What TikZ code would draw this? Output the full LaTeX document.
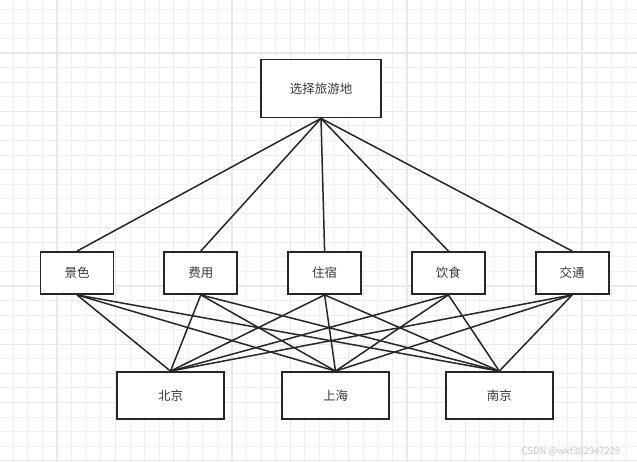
\documentclass[tikz,border=0pt]{standalone}
\usepackage{fontspec}
\setmainfont{Noto Sans CJK SC}
\usepackage{xcolor}
\usepackage{tikz}
\usetikzlibrary{positioning}

\definecolor{gridminor}{HTML}{F0F0F0}
\definecolor{gridmajor}{HTML}{E9E9E9}
\definecolor{boxtext}{HTML}{3A3A3A}

\begin{document}
\begin{tikzpicture}[
  x=1pt, y=-1pt,
  node distance=49pt,
  box/.style={rectangle, draw=black!85, line width=1.8pt,
    minimum width=73pt, minimum height=42pt, inner sep=0pt,
    align=center, text=boxtext, font=\fontsize{12.5}{15}\selectfont},
  bigbox/.style={box, minimum width=120pt, minimum height=58pt},
  citybox/.style={box, minimum width=107pt, minimum height=47pt},
  minor/.style={gridminor, line width=0.8pt},
  major/.style={gridmajor, line width=1.3pt},
  arr/.style={line width=1.5pt, black!85}
]
\useasboundingbox (0,0) rectangle (637,462);
\fill[white] (0,0) rectangle (637,462);
% background grid
\foreach \i in {0,...,44} {
  \pgfmathsetmacro\gx{-1.3+14.58*\i}
  \draw[minor] (\gx,0) -- (\gx,462);
}
\foreach \i in {0,...,32} {
  \pgfmathsetmacro\gy{-5.25+14.56*\i}
  \draw[minor] (0,\gy) -- (637,\gy);
}
\foreach \i in {0,...,11} {
  \pgfmathsetmacro\gx{-1.3+58.32*\i}
  \draw[major] (\gx,0) -- (\gx,462);
}
\foreach \i in {0,...,8} {
  \pgfmathsetmacro\gy{-5.25+58.25*\i}
  \draw[major] (0,\gy) -- (637,\gy);
}

\node[bigbox, fill=white] (goal) at (321,88.5) {选择旅游地};
\node[box, fill=white] (sc) at (77,273) {景色};
\node[box, fill=white, right=of sc] (fy) {费用};
\node[box, fill=white, right=of fy] (zs) {住宿};
\node[box, fill=white, right=of zs] (ys) {饮食};
\node[box, fill=white, right=of ys] (jt) {交通};
\node[citybox, fill=white] (bj) at (170.5,395.5) {北京};
\node[citybox, fill=white, right=56.2pt of bj] (sh) {上海};
\node[citybox, fill=white, right=55pt of sh] (nj) {南京};

\draw[arr] (goal.south)--(sc.north); \draw[arr] (goal.south)--(fy.north);
\draw[arr] (goal.south)--(zs.north); \draw[arr] (goal.south)--(ys.north);
\draw[arr] (goal.south)--(jt.north);
\draw[arr] (sc.south)--(bj.north); \draw[arr] (sc.south)--(sh.north); \draw[arr] (sc.south)--(nj.north);
\draw[arr] (fy.south)--(bj.north); \draw[arr] (fy.south)--(sh.north); \draw[arr] (fy.south)--(nj.north);
\draw[arr] (zs.south)--(bj.north); \draw[arr] (zs.south)--(sh.north); \draw[arr] (zs.south)--(nj.north);
\draw[arr] (ys.south)--(bj.north); \draw[arr] (ys.south)--(sh.north); \draw[arr] (ys.south)--(nj.north);
\draw[arr] (jt.south)--(bj.north); \draw[arr] (jt.south)--(sh.north); \draw[arr] (jt.south)--(nj.north);

\node[text=black!22, font=\fontsize{9.5}{11}\selectfont, anchor=east] (mark) at (624,451) {CSDN @wxf302947229};
\end{tikzpicture}
\end{document}
